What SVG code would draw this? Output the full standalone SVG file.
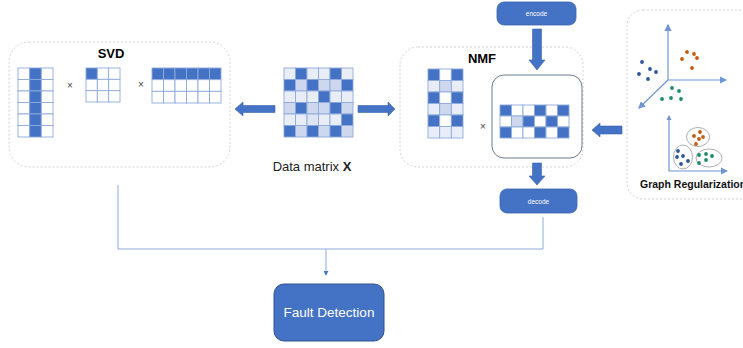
<svg xmlns="http://www.w3.org/2000/svg" width="743" height="348" viewBox="0 0 743 348">
<defs>
<style>
.frame{fill:#fff;stroke:#c8c8c8;stroke-width:0.8;stroke-dasharray:2 2}
.c{stroke:#8faadc;stroke-width:0.9}
.d{fill:#4472c4}
.l{fill:#e9edf7}
.m{fill:#cdd7ee}
.w{fill:#fff}
.big{fill:#4472c4;stroke:#3c65ad;stroke-width:0.6}
.pill{fill:#4472c4;stroke:#3a64ad;stroke-width:0.8}
.conn{fill:none;stroke:#8faadc;stroke-width:1}
.t{font-family:"Liberation Sans",Arial,sans-serif}
.x{font-family:"Liberation Sans",Arial,sans-serif;font-size:10px;fill:#444}
.ax{stroke:#6f95d6;stroke-width:1.2;fill:none}
.db{fill:#2e5597}
.do{fill:#c55a11}
.dg{fill:#1f8a6a}
.el{fill:none;stroke:#a6a6a6;stroke-width:0.9}
</style>
<marker id="ah" viewBox="0 0 6 6" refX="5" refY="3" markerWidth="5" markerHeight="5" orient="auto"><path d="M0,0 L6,3 L0,6 Z" fill="#4472c4"/></marker>
<marker id="ah2" viewBox="0 0 6 6" refX="5" refY="3" markerWidth="6" markerHeight="6" orient="auto"><path d="M0,0 L6,3 L0,6 Z" fill="#6f95d6"/></marker>
</defs>
<rect width="743" height="348" fill="#fff"/>

<g id="svd">
<rect class="frame" x="9" y="42" width="221" height="125" rx="20"/>
<text class="t" x="111" y="58" font-size="13" font-weight="bold" text-anchor="middle" fill="#000">SVD</text>
<g class="c">
<rect class="w" x="18" y="68" width="11.67" height="11.5"/><rect class="d" x="29.67" y="68" width="11.67" height="11.5"/><rect class="w" x="41.33" y="68" width="11.67" height="11.5"/>
<rect class="w" x="18" y="79.5" width="11.67" height="11.5"/><rect class="d" x="29.67" y="79.5" width="11.67" height="11.5"/><rect class="w" x="41.33" y="79.5" width="11.67" height="11.5"/>
<rect class="w" x="18" y="91" width="11.67" height="11.5"/><rect class="d" x="29.67" y="91" width="11.67" height="11.5"/><rect class="w" x="41.33" y="91" width="11.67" height="11.5"/>
<rect class="w" x="18" y="102.5" width="11.67" height="11.5"/><rect class="d" x="29.67" y="102.5" width="11.67" height="11.5"/><rect class="w" x="41.33" y="102.5" width="11.67" height="11.5"/>
<rect class="w" x="18" y="114" width="11.67" height="11.5"/><rect class="d" x="29.67" y="114" width="11.67" height="11.5"/><rect class="w" x="41.33" y="114" width="11.67" height="11.5"/>
<rect class="w" x="18" y="125.5" width="11.67" height="11.5"/><rect class="d" x="29.67" y="125.5" width="11.67" height="11.5"/><rect class="w" x="41.33" y="125.5" width="11.67" height="11.5"/>

<rect class="d" x="86" y="68" width="11.33" height="11.33"/><rect class="w" x="97.33" y="68" width="11.33" height="11.33"/><rect class="w" x="108.67" y="68" width="11.33" height="11.33"/>
<rect class="w" x="86" y="79.33" width="11.33" height="11.33"/><rect class="w" x="97.33" y="79.33" width="11.33" height="11.33"/><rect class="w" x="108.67" y="79.33" width="11.33" height="11.33"/>
<rect class="w" x="86" y="90.67" width="11.33" height="11.33"/><rect class="w" x="97.33" y="90.67" width="11.33" height="11.33"/><rect class="w" x="108.67" y="90.67" width="11.33" height="11.33"/>

<rect class="d" x="152" y="68" width="11.5" height="11.67"/><rect class="d" x="163.5" y="68" width="11.5" height="11.67"/><rect class="d" x="175" y="68" width="11.5" height="11.67"/><rect class="d" x="186.5" y="68" width="11.5" height="11.67"/><rect class="d" x="198" y="68" width="11.5" height="11.67"/><rect class="d" x="209.5" y="68" width="11.5" height="11.67"/>
<rect class="w" x="152" y="79.67" width="11.5" height="11.67"/><rect class="w" x="163.5" y="79.67" width="11.5" height="11.67"/><rect class="w" x="175" y="79.67" width="11.5" height="11.67"/><rect class="w" x="186.5" y="79.67" width="11.5" height="11.67"/><rect class="w" x="198" y="79.67" width="11.5" height="11.67"/><rect class="w" x="209.5" y="79.67" width="11.5" height="11.67"/>
<rect class="w" x="152" y="91.33" width="11.5" height="11.67"/><rect class="w" x="163.5" y="91.33" width="11.5" height="11.67"/><rect class="w" x="175" y="91.33" width="11.5" height="11.67"/><rect class="w" x="186.5" y="91.33" width="11.5" height="11.67"/><rect class="w" x="198" y="91.33" width="11.5" height="11.67"/><rect class="w" x="209.5" y="91.33" width="11.5" height="11.67"/>
</g>
<text class="x" x="70" y="89" text-anchor="middle">×</text>
<text class="x" x="141" y="88" text-anchor="middle">×</text>
</g>

<g id="data-matrix">
<g class="c">
<rect class="l" x="284" y="68" width="11.5" height="11.5"/><rect class="d" x="295.5" y="68" width="11.5" height="11.5"/><rect class="l" x="307" y="68" width="11.5" height="11.5"/><rect class="l" x="318.5" y="68" width="11.5" height="11.5"/><rect class="d" x="330" y="68" width="11.5" height="11.5"/><rect class="l" x="341.5" y="68" width="11.5" height="11.5"/>
<rect class="d" x="284" y="79.5" width="11.5" height="11.5"/><rect class="m" x="295.5" y="79.5" width="11.5" height="11.5"/><rect class="d" x="307" y="79.5" width="11.5" height="11.5"/><rect class="m" x="318.5" y="79.5" width="11.5" height="11.5"/><rect class="m" x="330" y="79.5" width="11.5" height="11.5"/><rect class="d" x="341.5" y="79.5" width="11.5" height="11.5"/>
<rect class="l" x="284" y="91" width="11.5" height="11.5"/><rect class="l" x="295.5" y="91" width="11.5" height="11.5"/><rect class="l" x="307" y="91" width="11.5" height="11.5"/><rect class="d" x="318.5" y="91" width="11.5" height="11.5"/><rect class="l" x="330" y="91" width="11.5" height="11.5"/><rect class="l" x="341.5" y="91" width="11.5" height="11.5"/>
<rect class="m" x="284" y="102.5" width="11.5" height="11.5"/><rect class="d" x="295.5" y="102.5" width="11.5" height="11.5"/><rect class="m" x="307" y="102.5" width="11.5" height="11.5"/><rect class="m" x="318.5" y="102.5" width="11.5" height="11.5"/><rect class="d" x="330" y="102.5" width="11.5" height="11.5"/><rect class="m" x="341.5" y="102.5" width="11.5" height="11.5"/>
<rect class="l" x="284" y="114" width="11.5" height="11.5"/><rect class="l" x="295.5" y="114" width="11.5" height="11.5"/><rect fill="#dde5f4" x="307" y="114" width="11.5" height="11.5"/><rect class="l" x="318.5" y="114" width="11.5" height="11.5"/><rect class="l" x="330" y="114" width="11.5" height="11.5"/><rect class="d" x="341.5" y="114" width="11.5" height="11.5"/>
<rect class="d" x="284" y="125.5" width="11.5" height="11.5"/><rect class="m" x="295.5" y="125.5" width="11.5" height="11.5"/><rect class="d" x="307" y="125.5" width="11.5" height="11.5"/><rect class="m" x="318.5" y="125.5" width="11.5" height="11.5"/><rect class="d" x="330" y="125.5" width="11.5" height="11.5"/><rect class="m" x="341.5" y="125.5" width="11.5" height="11.5"/>
</g>
<text class="t" x="312" y="171" font-size="13" text-anchor="middle" fill="#222">Data matrix <tspan font-weight="bold">X</tspan></text>
</g>

<g id="nmf">
<rect class="frame" x="400" y="47" width="183" height="120" rx="18"/>
<text class="t" x="482" y="63" font-size="13" font-weight="bold" text-anchor="middle" fill="#000">NMF</text>
<g class="c">
<rect class="d" x="428" y="69" width="11.67" height="11.5"/><rect class="w" x="439.67" y="69" width="11.67" height="11.5"/><rect class="d" x="451.33" y="69" width="11.67" height="11.5"/>
<rect class="l" x="428" y="80.5" width="11.67" height="11.5"/><rect class="m" x="439.67" y="80.5" width="11.67" height="11.5"/><rect class="l" x="451.33" y="80.5" width="11.67" height="11.5"/>
<rect class="d" x="428" y="92" width="11.67" height="11.5"/><rect class="w" x="439.67" y="92" width="11.67" height="11.5"/><rect class="d" x="451.33" y="92" width="11.67" height="11.5"/>
<rect class="l" x="428" y="103.5" width="11.67" height="11.5"/><rect class="m" x="439.67" y="103.5" width="11.67" height="11.5"/><rect class="l" x="451.33" y="103.5" width="11.67" height="11.5"/>
<rect class="d" x="428" y="115" width="11.67" height="11.5"/><rect class="w" x="439.67" y="115" width="11.67" height="11.5"/><rect class="d" x="451.33" y="115" width="11.67" height="11.5"/>
<rect class="l" x="428" y="126.5" width="11.67" height="11.5"/><rect class="l" x="439.67" y="126.5" width="11.67" height="11.5"/><rect class="l" x="451.33" y="126.5" width="11.67" height="11.5"/>
</g>
<text class="x" x="483" y="130" text-anchor="middle">×</text>
<rect x="492" y="75" width="90" height="83" rx="12" fill="#fff" stroke="#6b7a92" stroke-width="1"/>
<g class="c">
<rect class="d" x="500" y="105" width="11.5" height="11"/><rect class="w" x="511.5" y="105" width="11.5" height="11"/><rect class="w" x="523" y="105" width="11.5" height="11"/><rect class="d" x="534.5" y="105" width="11.5" height="11"/><rect class="w" x="546" y="105" width="11.5" height="11"/><rect class="d" x="557.5" y="105" width="11.5" height="11"/>
<rect class="w" x="500" y="116" width="11.5" height="11"/><rect class="m" x="511.5" y="116" width="11.5" height="11"/><rect class="d" x="523" y="116" width="11.5" height="11"/><rect class="w" x="534.5" y="116" width="11.5" height="11"/><rect class="d" x="546" y="116" width="11.5" height="11"/><rect class="w" x="557.5" y="116" width="11.5" height="11"/>
<rect class="d" x="500" y="127" width="11.5" height="11"/><rect class="w" x="511.5" y="127" width="11.5" height="11"/><rect class="w" x="523" y="127" width="11.5" height="11"/><rect class="d" x="534.5" y="127" width="11.5" height="11"/><rect class="w" x="546" y="127" width="11.5" height="11"/><rect class="d" x="557.5" y="127" width="11.5" height="11"/>
</g>
</g>

<g id="encode">
<rect class="pill" x="497" y="2" width="79" height="23" rx="7"/>
<text class="t" x="536.5" y="16" font-size="6.5" text-anchor="middle" fill="#fff">encode</text>
</g>

<g id="decode">
<rect class="pill" x="500" y="189" width="77" height="24" rx="7"/>
<text class="t" x="538.5" y="203.5" font-size="6.5" text-anchor="middle" fill="#fff">decode</text>
</g>

<g id="graph-regularization">
<rect class="frame" x="627" y="10" width="140" height="189" rx="16"/>
<line class="ax" x1="668" y1="80" x2="668" y2="25" marker-end="url(#ah2)"/>
<line class="ax" x1="668" y1="80" x2="726" y2="80" marker-end="url(#ah2)"/>
<line class="ax" x1="668" y1="80" x2="639" y2="108" marker-end="url(#ah2)"/>
<circle class="db" cx="642" cy="62" r="1.9"/><circle class="db" cx="639" cy="74" r="1.9"/><circle class="db" cx="650" cy="69" r="1.9"/><circle class="db" cx="656" cy="72" r="1.9"/><circle class="db" cx="648" cy="79" r="1.9"/>
<circle class="do" cx="687" cy="52" r="1.9"/><circle class="do" cx="694" cy="54" r="1.9"/><circle class="do" cx="682" cy="59" r="1.9"/><circle class="do" cx="697" cy="58" r="1.9"/><circle class="do" cx="692" cy="68" r="1.9"/>
<circle class="dg" cx="672" cy="88" r="1.9"/><circle class="dg" cx="679" cy="91" r="1.9"/><circle class="dg" cx="662" cy="99" r="1.9"/><circle class="dg" cx="671" cy="98" r="1.9"/><circle class="dg" cx="681" cy="99" r="1.9"/>
<polyline class="ax" points="669,116 669,171 727,171" marker-end="url(#ah2)"/>
<polygon points="669,115 666.5,120 671.5,120" fill="#6f95d6"/>
<ellipse class="el" cx="698" cy="137" rx="11.5" ry="9.5"/>
<ellipse class="el" cx="683" cy="157" rx="9.5" ry="12"/>
<ellipse class="el" cx="709" cy="158" rx="13" ry="9"/>
<circle class="do" cx="700" cy="132" r="1.9"/><circle class="do" cx="694" cy="136" r="1.9"/><circle class="do" cx="699" cy="139" r="1.9"/><circle class="do" cx="703" cy="137" r="1.9"/><circle class="do" cx="696" cy="144" r="1.9"/>
<circle class="db" cx="678" cy="151" r="1.9"/><circle class="db" cx="683" cy="156" r="1.9"/><circle class="db" cx="677" cy="157" r="1.9"/><circle class="db" cx="681" cy="164" r="1.9"/><circle class="db" cx="688" cy="161" r="1.9"/>
<circle class="dg" cx="699" cy="155" r="1.9"/><circle class="dg" cx="706" cy="154" r="1.9"/><circle class="dg" cx="712" cy="156" r="1.9"/><circle class="dg" cx="706" cy="160" r="1.9"/><circle class="dg" cx="699" cy="163" r="1.9"/>
<text class="t" x="640" y="188" font-size="10.5" font-weight="bold" fill="#111">Graph Regularization</text>
</g>

<g id="fault-detection">
<rect x="274" y="284" width="110" height="57" rx="10" fill="#4472c4" stroke="#2f528f" stroke-width="1"/>
<text class="t" x="329" y="317" font-size="13.5" text-anchor="middle" fill="#fff">Fault Detection</text>
</g>

<g id="connectors">
<polygon class="big" points="235,109 243,102 243,105.5 275,105.5 275,112.5 243,112.5 243,116"/>
<polygon class="big" points="395,109 388,102 388,105.5 358,105.5 358,112.5 388,112.5 388,116"/>
<polygon class="big" points="592,130 600,123 600,126 622,126 622,134 600,134 600,137"/>
<polygon class="big" points="537,70 529,60 532.5,60 532.5,29 541.5,29 541.5,60 545,60"/>
<polygon class="big" points="537,185 529,176 532.5,176 532.5,163 541.5,163 541.5,176 545,176"/>
<polyline class="conn" points="118,185 118,249 543,249 543,217"/>
<line class="conn" x1="326" y1="249" x2="326" y2="275" marker-end="url(#ah)"/>
</g>
</svg>
